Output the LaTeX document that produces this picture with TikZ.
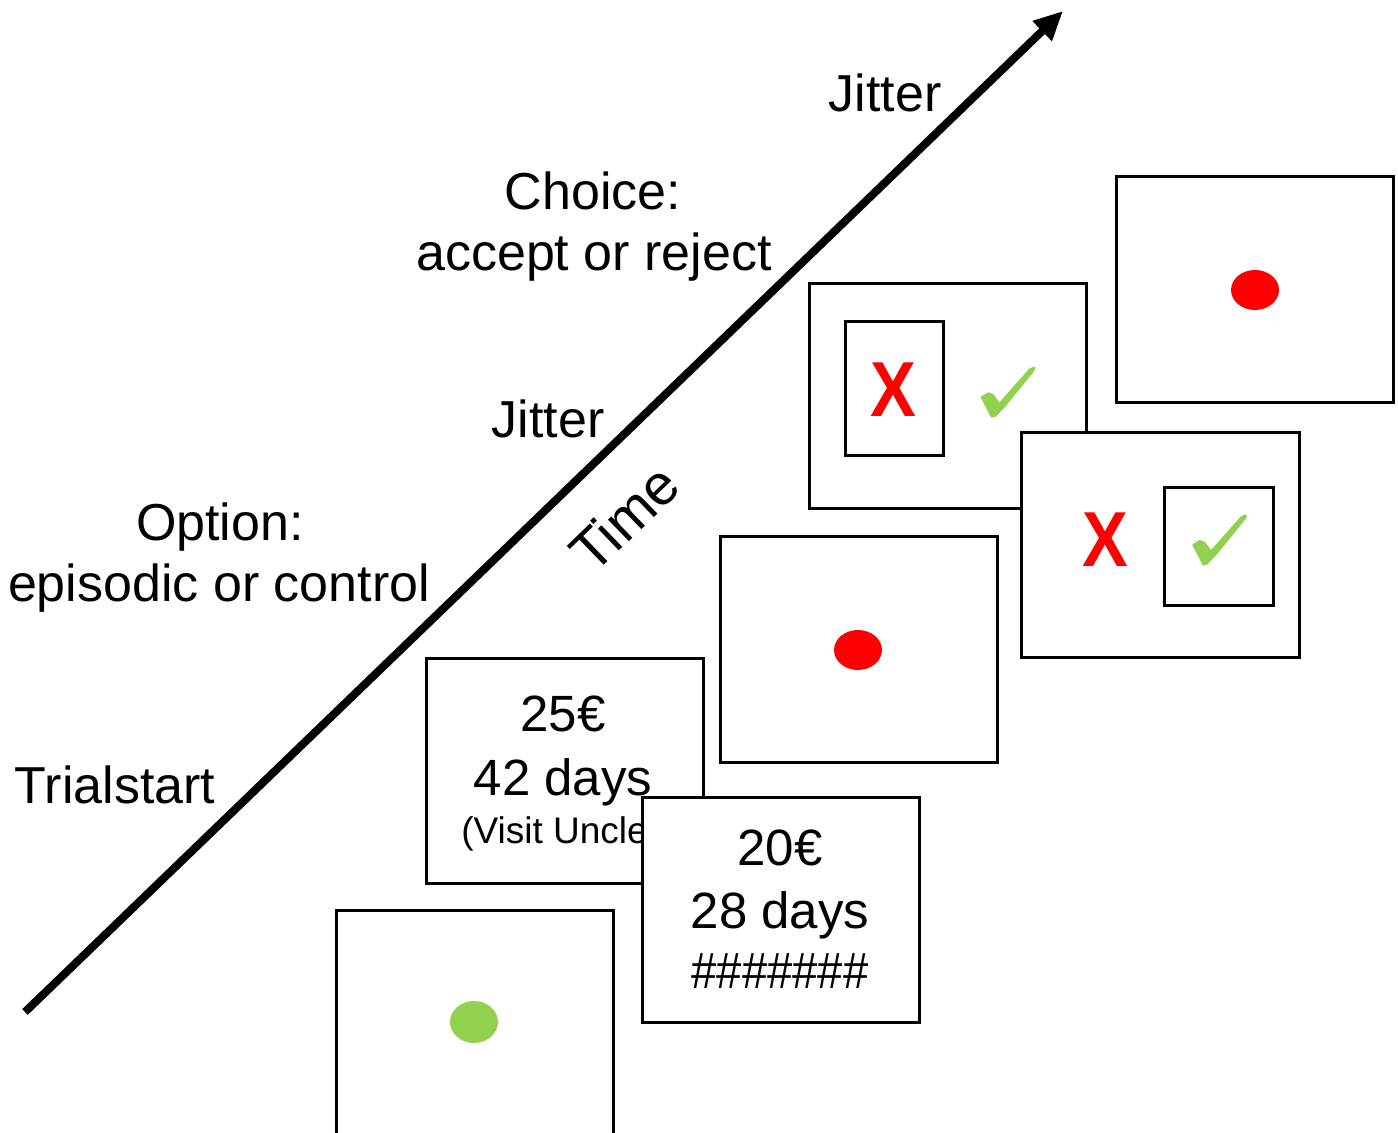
\documentclass[tikz,border=0pt]{standalone}
\usepackage{fontspec}
\setmainfont{Liberation Sans}
\usetikzlibrary{arrows.meta,shapes.geometric}
\definecolor{dotgreen}{RGB}{146,208,80}
\definecolor{dotred}{RGB}{255,0,0}
\tikzset{
  screen/.style={draw=black, line width=1.5pt, fill=white, minimum width=138.5pt, minimum height=112.5pt, inner sep=0pt},
  innerbox/.style={draw=black, line width=1.5pt, inner sep=0pt},
  lbl/.style={font=\fontsize{26pt}{30pt}\selectfont, inner sep=0pt, anchor=base},
  boxtxt/.style={font=\fontsize{25.5pt}{30pt}\selectfont, inner sep=0pt, anchor=base},
  smalltxt/.style={font=\fontsize{18.5pt}{21pt}\selectfont, inner sep=0pt, anchor=base west},
  dotshape/.style={ellipse, draw=none, inner sep=0pt, minimum width=24pt, minimum height=20pt},
  xmark/.style={text=dotred, font=\fontsize{39pt}{40pt}\selectfont\bfseries, inner sep=0pt, xscale=0.88},
  timearrow/.style={line width=4pt, -{Triangle[length=14.5pt,width=13pt]}},
  pics/checkmk/.style={code={
    \filldraw[dotgreen, line width=1pt, line join=round] (-26.3,5.3) -- (-19.7,1.3) -- (-15.3,3) -- (-8.7,12)
      -- (22,-22.7) -- (26.3,-24.3) -- (25.3,-21.3) -- (-4,14.7) -- (-13,24) -- (-16.3,24.7)
      -- (-18.7,19.7) -- cycle;
  }}
}
\begin{document}
\begin{tikzpicture}[x=0.5pt,y=-0.5pt]
\useasboundingbox (0,0) rectangle (1398,1133);

% time arrow
\coordinate (astart) at (25,1012);
\coordinate (aend) at (1063,11);
\draw[timearrow] (astart) -- (aend);

% labels
\node[lbl] (jitB) at (885,112) {Jitter};
\node[lbl] (choice) at (593,210) {Choice:};
\node[lbl] (accept) at (594,271) {accept or reject};
\node[lbl] (jitA) at (548,438) {Jitter};
\node[lbl] (option) at (220,541) {Option:};
\node[lbl] (episodic) at (219,602) {episodic or control};
\node[lbl] (trial) at (115,803) {Trialstart};
\node[font=\fontsize{28.5pt}{30pt}\selectfont, inner sep=0pt, rotate=44] (time) at (624,518) {Time};

% trial start screen
\node[screen, minimum height=112.5pt] (s1) at (474.5,1022.5) {};
\node[dotshape, fill=dotgreen, minimum height=21pt] (g1) at (474,1022) {};

% option screen 1
\node[screen] (s2) at (564.5,771) {};
\node[boxtxt] (s2a) at (563,732) {25€};
\node[boxtxt] (s2b) at (563,795) {42 days};
\node[smalltxt] (s2c) at (461,843) {(Visit Uncle};

% option screen 2
\node[screen] (s3) at (780.5,909.5) {};
\node[boxtxt] (s3a) at (780,865) {20€};
\node[boxtxt] (s3b) at (780,928) {28 days};
\node[boxtxt, xscale=0.89] (s3c) at (780,988) {\#\#\#\#\#\#\#};

% jitter screen
\node[screen] (s4) at (858.5,649.5) {};
\node[dotshape, fill=dotred] (r1) at (858,650) {};

% choice screen 1
\node[screen] (s5) at (947.5,396) {};
\node[innerbox, minimum width=49pt, minimum height=67pt] (i1) at (894,389) {};
\node[xmark] (x1) at (893,390) {X};
\pic at (1008,392) {checkmk};

% choice screen 2
\node[screen, minimum width=139pt] (s6) at (1160,545.5) {};
\node[innerbox, minimum width=54.5pt, minimum height=59pt] (i2) at (1218.5,547) {};
\node[xmark] (x2) at (1105,540) {X};
\pic at (1219.6,539.7) {checkmk};

% final jitter screen
\node[screen, minimum height=113pt] (s7) at (1254.5,290) {};
\node[dotshape, fill=dotred] (r2) at (1255,290) {};
\end{tikzpicture}
\end{document}
